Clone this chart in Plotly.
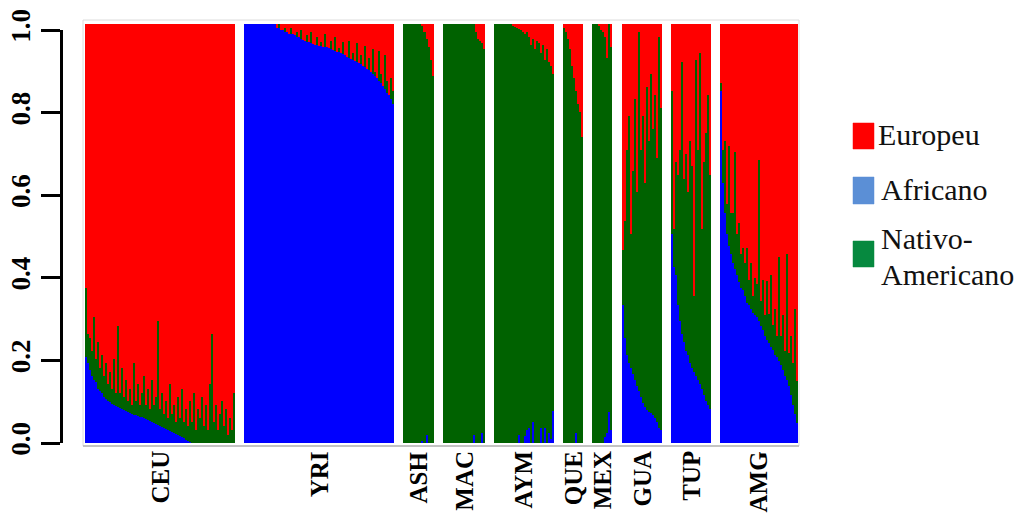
import plotly.graph_objects as go

# Population groups, in plotting order
groups = ["CEU", "YRI", "ASH", "MAC", "AYM", "QUE", "MEX", "GUA", "TUP", "AMG"]

# Ancestry proportions per individual (African / Native American / European)
CEU_AFR = [0.205, 0.19, 0.175, 0.16, 0.15, 0.145, 0.13, 0.125, 0.12, 0.11,
           0.105, 0.10, 0.097, 0.093, 0.09, 0.088, 0.085, 0.083, 0.08, 0.079,
           0.076, 0.074, 0.072, 0.07, 0.068, 0.066, 0.065, 0.063, 0.061, 0.06,
           0.058, 0.055, 0.053, 0.05, 0.048, 0.046, 0.044, 0.041, 0.038, 0.035,
           0.033, 0.03, 0.028, 0.026, 0.024, 0.022, 0.019, 0.017, 0.014, 0.011,
           0.008, 0.005, 0.003, 0.001, 0, 0, 0, 0, 0, 0,
           0, 0, 0, 0, 0, 0, 0, 0, 0, 0,
           0, 0, 0, 0, 0]
CEU_NAT = [0.165, 0.07, 0.075, 0.06, 0.15, 0.055, 0.11, 0.055, 0.09, 0.05,
           0.085, 0.04, 0.073, 0.037, 0.11, 0.032, 0.195, 0.037, 0.10, 0.031,
           0.074, 0.026, 0.058, 0.02, 0.122, 0.034, 0.075, 0.027, 0.059, 0.10,
           0.032, 0.075, 0.027, 0.10, 0.042, 0.064, 0.246, 0.039, 0.082, 0.035,
           0.067, 0.03, 0.112, 0.044, 0.066, 0.028, 0.091, 0.043, 0.116, 0.039,
           0.072, 0.035, 0.097, 0.049, 0.12, 0.03, 0.08, 0.06, 0.11, 0.04,
           0.09, 0.03, 0.14, 0.26, 0.05, 0.09, 0.03, 0.07, 0.10, 0.04,
           0.08, 0.02, 0.06, 0.03, 0.12]
CEU_EUR = [0.63, 0.74, 0.75, 0.78, 0.70, 0.80, 0.76, 0.82, 0.79, 0.84,
           0.81, 0.86, 0.83, 0.87, 0.80, 0.88, 0.72, 0.88, 0.82, 0.89,
           0.85, 0.90, 0.87, 0.91, 0.81, 0.90, 0.86, 0.91, 0.88, 0.84,
           0.91, 0.87, 0.92, 0.85, 0.91, 0.89, 0.71, 0.92, 0.88, 0.93,
           0.90, 0.94, 0.86, 0.93, 0.91, 0.95, 0.89, 0.94, 0.87, 0.95,
           0.92, 0.96, 0.90, 0.95, 0.88, 0.97, 0.92, 0.94, 0.89, 0.96,
           0.91, 0.97, 0.86, 0.74, 0.95, 0.91, 0.97, 0.93, 0.90, 0.96,
           0.92, 0.98, 0.94, 0.97, 0.88]

YRI_AFR = [1, 1, 1, 1, 1, 1, 1, 1, 1, 1, 1, 1, 1, 1, 1, 1,
           0.99, 0.99, 0.985, 0.985, 0.98, 0.98, 0.977, 0.975, 0.975, 0.973,
           0.97, 0.968, 0.965, 0.963, 0.96, 0.958, 0.957, 0.955, 0.952, 0.95,
           0.95, 0.948, 0.947, 0.946, 0.945, 0.944, 0.943, 0.94, 0.938, 0.935,
           0.934, 0.932, 0.93, 0.928, 0.925, 0.922, 0.92, 0.917, 0.915, 0.912,
           0.91, 0.908, 0.905, 0.90, 0.897, 0.893, 0.89, 0.885, 0.88, 0.876,
           0.872, 0.865, 0.86, 0.852, 0.845, 0.835, 0.83, 0.82, 0.81]
YRI_NAT = [0, 0, 0, 0, 0, 0, 0, 0, 0, 0, 0, 0, 0, 0, 0, 0,
           0, 0.01, 0, 0, 0.01, 0, 0, 0.015, 0, 0,
           0.01, 0, 0.02, 0, 0, 0.015, 0, 0.025, 0, 0,
           0.02, 0, 0.01, 0, 0.03, 0, 0, 0.02, 0, 0.035,
           0, 0.01, 0, 0.03, 0, 0, 0.04, 0, 0.015, 0,
           0.045, 0, 0.02, 0, 0.05, 0, 0.03, 0, 0.06, 0.01,
           0, 0.07, 0.02, 0, 0.08, 0.03, 0, 0.05, 0.03]
YRI_EUR = [0, 0, 0, 0, 0, 0, 0, 0, 0, 0, 0, 0, 0, 0, 0, 0,
           0.01, 0, 0.015, 0.015, 0.01, 0.02, 0.023, 0.01, 0.025, 0.027,
           0.02, 0.032, 0.015, 0.037, 0.04, 0.027, 0.043, 0.02, 0.048, 0.05,
           0.03, 0.052, 0.043, 0.054, 0.025, 0.056, 0.057, 0.04, 0.062, 0.03,
           0.066, 0.058, 0.07, 0.042, 0.075, 0.078, 0.04, 0.083, 0.07, 0.088,
           0.045, 0.092, 0.075, 0.10, 0.053, 0.107, 0.08, 0.115, 0.06, 0.114,
           0.128, 0.065, 0.12, 0.148, 0.075, 0.135, 0.17, 0.13, 0.16]

ASH_AFR = [0, 0, 0, 0, 0, 0, 0, 0, 0, 0.005, 0, 0.02, 0, 0, 0]
ASH_NAT = [1, 1, 1, 1, 1, 1, 1, 1, 1, 0.99, 0.98, 0.945, 0.945, 0.915, 0.875]
ASH_EUR = [0, 0, 0, 0, 0, 0, 0, 0, 0, 0.005, 0.02, 0.035, 0.055, 0.085, 0.125]

MAC_AFR = [0, 0, 0, 0, 0, 0, 0, 0, 0, 0, 0, 0, 0, 0, 0, 0.02, 0, 0, 0, 0.025, 0]
MAC_NAT = [1, 1, 1, 1, 1, 1, 1, 1, 1, 1, 1, 1, 1, 1, 1,
           0.98, 0.98, 0.965, 0.96, 0.93, 0.94]
MAC_EUR = [0, 0, 0, 0, 0, 0, 0, 0, 0, 0, 0, 0, 0, 0, 0, 0,
           0.02, 0.035, 0.04, 0.045, 0.06]

AYM_AFR = [0, 0, 0, 0, 0, 0, 0, 0, 0, 0, 0, 0, 0.02, 0, 0,
           0.017, 0.03, 0.036, 0, 0.05, 0, 0, 0, 0.036, 0,
           0.036, 0, 0.024, 0.01, 0.076]
AYM_NAT = [1, 1, 1, 1, 1, 1, 1, 1, 1, 0.997, 0.994, 0.99, 0.968, 0.985, 0.98,
           0.958, 0.95, 0.934, 0.95, 0.915, 0.94, 0.96, 0.955, 0.894, 0.95,
           0.879, 0.94, 0.886, 0.89, 0.804]
AYM_EUR = [0, 0, 0, 0, 0, 0, 0, 0, 0, 0.003, 0.006, 0.01, 0.012, 0.015, 0.02,
           0.025, 0.02, 0.03, 0.05, 0.035, 0.06, 0.04, 0.045, 0.07, 0.05,
           0.085, 0.06, 0.09, 0.10, 0.12]

QUE_AFR = [0, 0, 0, 0, 0, 0, 0.024, 0, 0, 0]
QUE_NAT = [0.99, 0.98, 0.965, 0.94, 0.90, 0.87, 0.816, 0.81, 0.79, 0.73]
QUE_EUR = [0.01, 0.02, 0.035, 0.06, 0.10, 0.13, 0.16, 0.19, 0.21, 0.27]

MEX_AFR = [0, 0, 0, 0, 0, 0, 0.015, 0.024, 0.075, 0.03]
MEX_NAT = [1, 1, 1, 0.995, 0.985, 0.98, 0.955, 0.896, 0.925, 0.915]
MEX_EUR = [0, 0, 0, 0.005, 0.015, 0.02, 0.03, 0.08, 0, 0.055]

GUA_AFR = [0.33, 0.25, 0.21, 0.19, 0.18, 0.165, 0.15, 0.135, 0.125, 0.11,
           0.095, 0.085, 0.078, 0.075, 0.072, 0.068, 0.06, 0.05, 0.036, 0.03]
GUA_NAT = [0.13, 0.28, 0.49, 0.59, 0.32, 0.485, 0.67, 0.465, 0.855, 0.59,
           0.685, 0.535, 0.772, 0.645, 0.808, 0.682, 0.77, 0.63, 0.934, 0.77]
GUA_EUR = [0.54, 0.47, 0.30, 0.22, 0.50, 0.35, 0.18, 0.40, 0.02, 0.30,
           0.22, 0.38, 0.15, 0.28, 0.12, 0.25, 0.17, 0.32, 0.03, 0.20]

TUP_AFR = [0.50, 0.42, 0.40, 0.33, 0.29, 0.26, 0.24, 0.22, 0.21, 0.19,
           0.18, 0.17, 0.16, 0.15, 0.14, 0.13, 0.115, 0.10, 0.09, 0.08]
TUP_NAT = [0.34, 0.09, 0.27, 0.31, 0.41, 0.65, 0.39, 0.47, 0.39, 0.53,
           0.48, 0.18, 0.755, 0.55, 0.79, 0.38, 0.555, 0.64, 0.74, 0.56]
TUP_EUR = [0.16, 0.49, 0.33, 0.36, 0.30, 0.09, 0.37, 0.31, 0.40, 0.28,
           0.34, 0.65, 0.085, 0.30, 0.07, 0.49, 0.33, 0.26, 0.17, 0.36]

AMG_AFR = [0.84, 0.62, 0.55, 0.50, 0.47, 0.45, 0.43, 0.415, 0.40, 0.385,
           0.37, 0.365, 0.35, 0.335, 0.33, 0.32, 0.31, 0.305, 0.30, 0.29,
           0.28, 0.27, 0.255, 0.246, 0.238, 0.23, 0.222, 0.21, 0.205, 0.195,
           0.185, 0.175, 0.16, 0.15, 0.135, 0.115, 0.09, 0.07, 0.048]
AMG_NAT = [0.02, 0.08, 0.17, 0.07, 0.24, 0.10, 0.12, 0.28, 0.10, 0.14,
           0.08, 0.10, 0.08, 0.13, 0.06, 0.11, 0.04, 0.09, 0.08, 0.385,
           0.06, 0.12, 0.05, 0.14, 0.07, 0.17, 0.06, 0.11, 0.05, 0.25,
           0.07, 0.13, 0.06, 0.30, 0.08, 0.14, 0.10, 0.25, 0.10]
AMG_EUR = [0.14, 0.30, 0.28, 0.43, 0.29, 0.45, 0.45, 0.305, 0.50, 0.475,
           0.55, 0.535, 0.57, 0.535, 0.61, 0.57, 0.65, 0.605, 0.62, 0.325,
           0.66, 0.61, 0.695, 0.614, 0.692, 0.60, 0.718, 0.68, 0.745, 0.555,
           0.745, 0.695, 0.78, 0.55, 0.785, 0.745, 0.81, 0.68, 0.852]

afr = [CEU_AFR, YRI_AFR, ASH_AFR, MAC_AFR, AYM_AFR, QUE_AFR, MEX_AFR, GUA_AFR, TUP_AFR, AMG_AFR]
nat = [CEU_NAT, YRI_NAT, ASH_NAT, MAC_NAT, AYM_NAT, QUE_NAT, MEX_NAT, GUA_NAT, TUP_NAT, AMG_NAT]
eur = [CEU_EUR, YRI_EUR, ASH_EUR, MAC_EUR, AYM_EUR, QUE_EUR, MEX_EUR, GUA_EUR, TUP_EUR, AMG_EUR]
for a, n, e in zip(afr, nat, eur):
    assert len(a) == len(n) == len(e)

legend_labels = ["Europeu", "Africano", "Nativo-", "Americano"]
y_ticks = [0.0, 0.2, 0.4, 0.6, 0.8, 1.0]

# Bar colours and (lighter) legend swatch colours
C_AFR, C_NAT, C_EUR = "#0000ff", "#006200", "#ff0000"
L_EUR, L_AFR, L_NAT = "#ff0000", "#5b8fd6", "#06893f"

W, H = 1021, 513
GAP = 4.6                     # blank space between populations, in bar units
SERIF = "Liberation Serif, Times New Roman, serif"


def fx(px):
    return px / W


def fy(px):
    return 1 - px / H


# Individual x positions: consecutive bars, with a gap between populations
xpos, centers = [], []
cursor = 0.0
for vals in afr:
    xs = [cursor + j for j in range(len(vals))]
    xpos.extend(xs)
    centers.append((xs[0] + xs[-1]) / 2)
    cursor = xs[-1] + 1 + GAP
x_last = xpos[-1]


def flat(lists):
    return [v for lst in lists for v in lst]


fig = go.Figure()
for name, data, col in [("Africano", afr, C_AFR),
                        ("Nativo-Americano", nat, C_NAT),
                        ("Europeu", eur, C_EUR)]:
    fig.add_trace(go.Bar(x=xpos, y=flat(data), width=1.0, name=name,
                         marker=dict(color=col, line=dict(width=0)),
                         showlegend=False, hoverinfo="skip"))

# Empty trace that carries the free-standing y axis on the left
fig.add_trace(go.Scatter(x=[], y=[], xaxis="x2", yaxis="y2", showlegend=False))

annotations = []
for g, c in zip(groups, centers):
    annotations.append(dict(x=c, xref="x", y=fy(449), yref="paper",
                            text=f"<b>{g}</b>", textangle=-90, showarrow=False,
                            xanchor="center", yanchor="top",
                            font=dict(family=SERIF, size=25, color="black")))

shapes = [
    dict(type="rect", xref="paper", yref="paper", x0=fx(83), x1=fx(799),
         y0=fy(446), y1=fy(20), line=dict(color="#dcdcdc", width=1), layer="below"),
    dict(type="line", xref="paper", yref="paper", x0=fx(83), x1=fx(799),
         y0=fy(446), y1=fy(446), line=dict(color="#b4b4b4", width=1.5)),
]

# Legend: swatches and labels
swatches = [(L_EUR, 123, 149), (L_AFR, 177, 204), (L_NAT, 241, 267)]
for col, top, bot in swatches:
    shapes.append(dict(type="rect", xref="paper", yref="paper",
                       x0=fx(853), x1=fx(874), y0=fy(bot), y1=fy(top),
                       fillcolor=col, line=dict(color=col, width=0.5)))
legend_pos = [(876, 134), (879, 189), (879, 239), (879, 274)]
for lab, (lx, ly) in zip(legend_labels, legend_pos):
    annotations.append(dict(x=fx(lx), y=fy(ly), xref="paper", yref="paper",
                            text=lab, showarrow=False, xanchor="left", yanchor="middle",
                            font=dict(family=SERIF, size=30, color="#111111")))

fig.update_layout(
    width=W, height=H, autosize=False,
    margin=dict(l=0, r=0, t=0, b=0, pad=0, autoexpand=False),
    paper_bgcolor="white", plot_bgcolor="rgba(0,0,0,0)",
    barmode="stack", bargap=0, showlegend=False,
    xaxis=dict(domain=[fx(85), fx(798)], range=[-0.5, x_last + 0.5],
               visible=False, fixedrange=True, automargin=False),
    yaxis=dict(domain=[fy(443), fy(24)], range=[0, 1], visible=False,
               fixedrange=True, automargin=False),
    xaxis2=dict(domain=[fx(63), fx(64)], anchor="y2", range=[0, 1],
                visible=False, automargin=False),
    yaxis2=dict(domain=[fy(443), fy(30)], anchor="x2", range=[0, 1],
                tickvals=y_ticks, ticktext=[f"{v:.1f}" for v in y_ticks],
                ticks="outside", ticklen=19, tickwidth=3, tickcolor="black",
                showline=True, linewidth=3, linecolor="black", automargin=False,
                showgrid=False, zeroline=False, tickangle=-90,
                tickfont=dict(family=SERIF, size=27, color="black", weight="bold")),
    annotations=annotations, shapes=shapes,
)

fig.write_html("out.html", config={"displayModeBar": False})
